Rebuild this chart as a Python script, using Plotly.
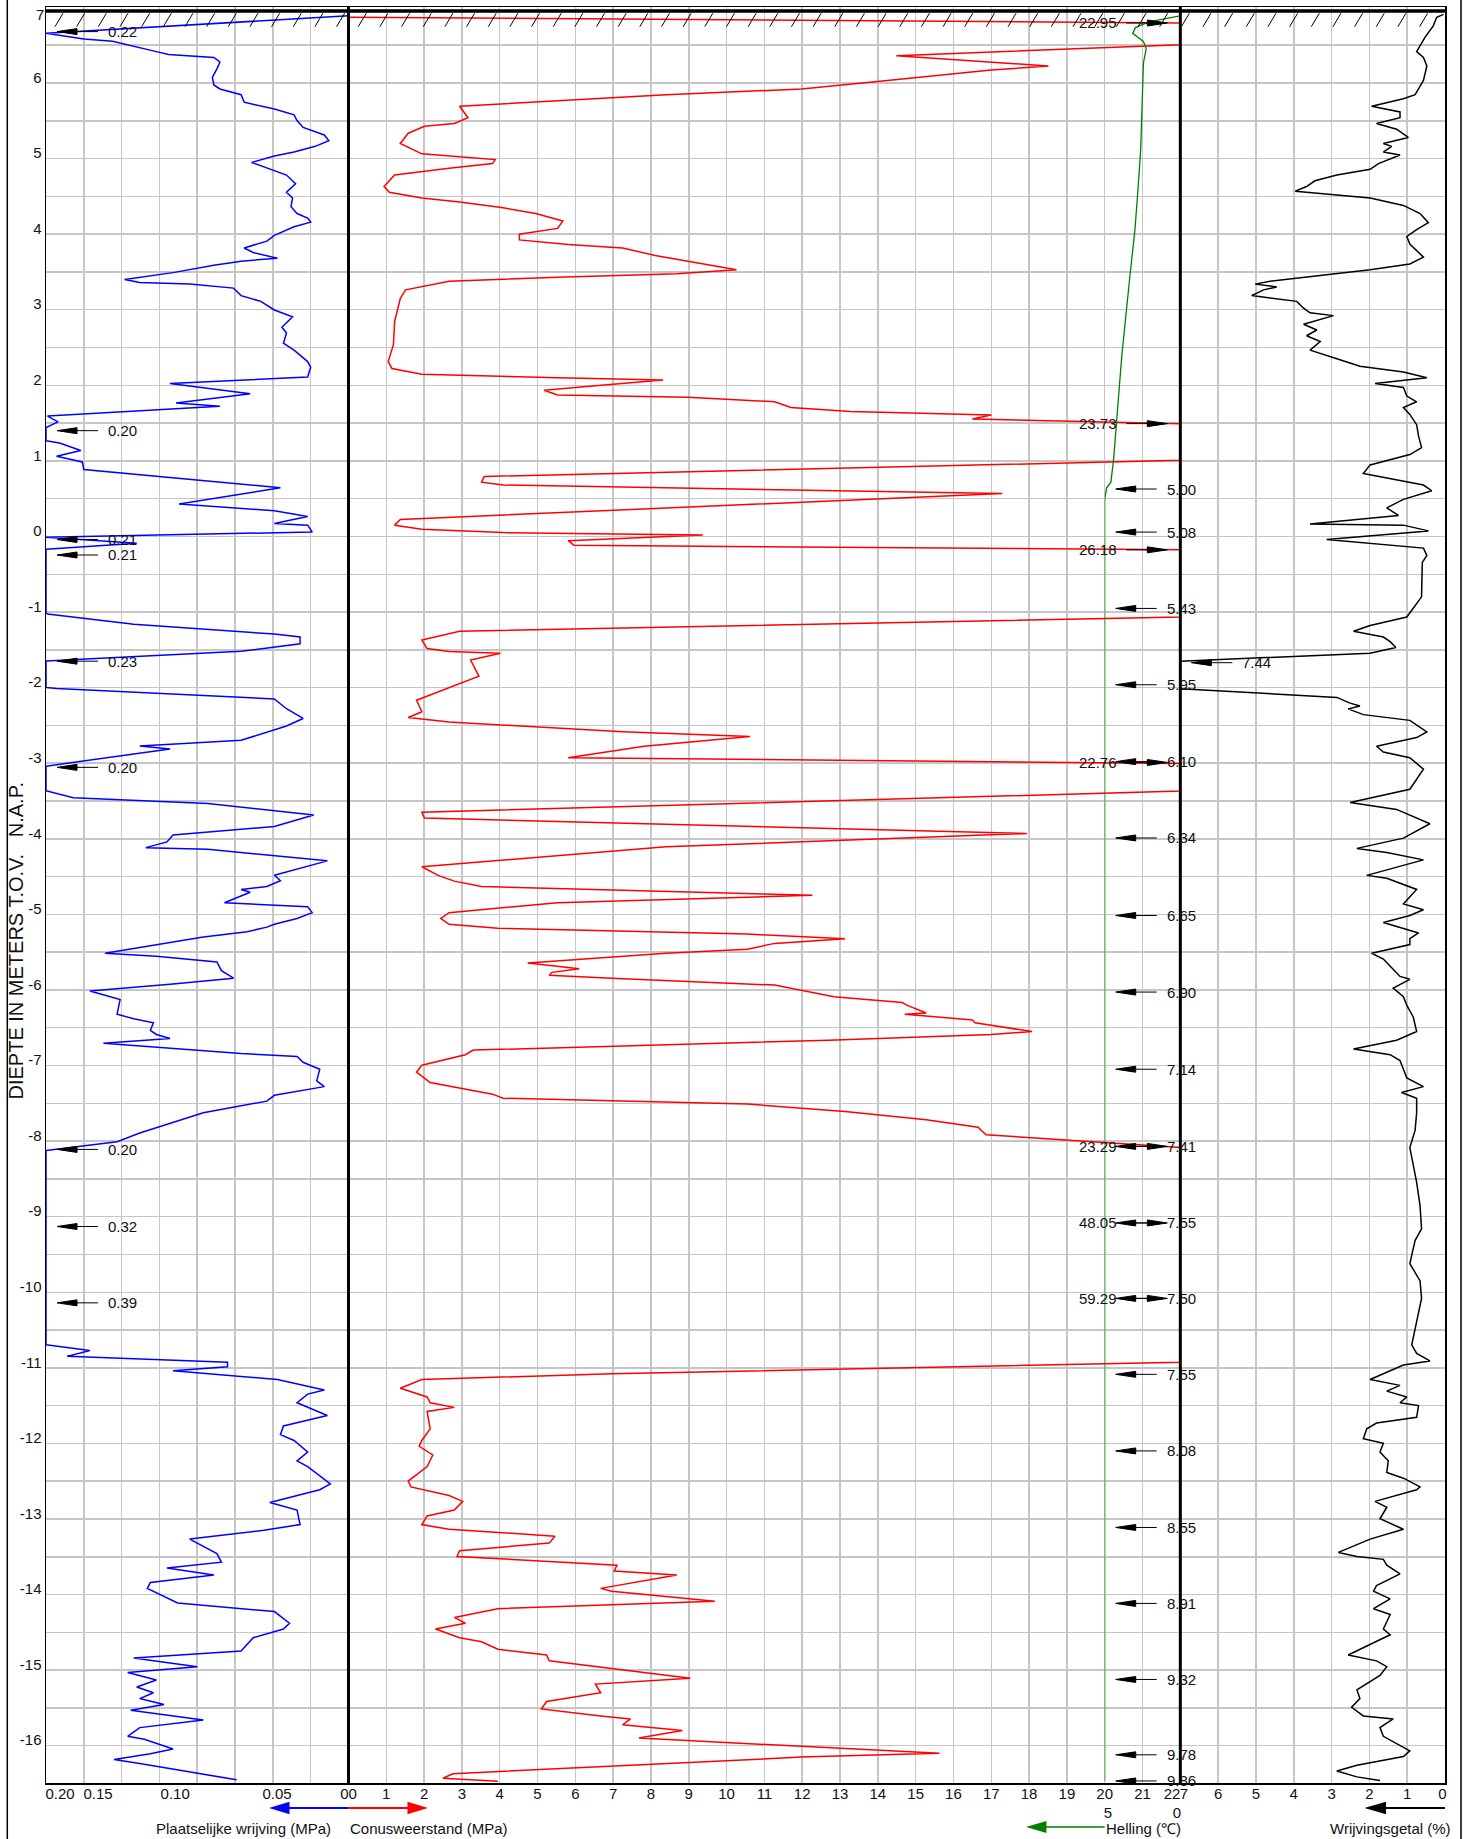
import plotly.graph_objects as go

# ---------------- data ----------------
friction_depth = [6.89, 6.657, 6.581, 6.551, 6.415, 6.377, 6.339, 6.278, 6.187, 6.073, 5.974, 5.921, 5.845, 5.747,
                  5.731, 5.655, 5.579, 5.503, 5.412, 5.313, 5.238, 5.162, 5.086, 5.033, 4.949, 4.858, 4.782, 4.668,
                  4.554, 4.478, 4.364, 4.273, 4.212, 4.159, 4.098, 3.984, 3.908, 3.817, 3.757, 3.681, 3.643, 3.590,
                  3.491, 3.400, 3.362, 3.339, 3.286, 3.187, 3.111, 2.997, 2.906, 2.769, 2.693, 2.557, 2.466, 2.314,
                  2.238, 2.109, 2.025, 1.889, 1.767, 1.722, 1.593, 1.517, 1.441, 1.267, 1.236, 1.137, 1.061, 0.986,
                  0.887, 0.644, 0.431, 0.340, 0.264, 0.173, 0.150, 0.059, -0.010, -0.090, -0.170, -1.011, -1.026,
                  -1.162, -1.291, -1.329, -1.420, -1.519, -1.648, -1.998, -2.013, -2.150, -2.279, -2.408, -2.507,
                  -2.697, -2.773, -2.811, -3.039, -3.365, -3.456, -3.532, -3.684, -3.836, -3.950, -4.041, -4.117,
                  -4.140, -4.292, -4.482, -4.555, -4.632, -4.670, -4.708, -4.847, -4.900, -4.977, -5.054, -5.131,
                  -5.169, -5.230, -5.299, -5.399, -5.514, -5.553, -5.629, -5.744, -5.783, -5.844, -5.921, -6.013,
                  -6.128, -6.320, -6.381, -6.435, -6.535, -6.589, -6.642, -6.704, -6.842, -6.880, -6.957, -7.049,
                  -7.203, -7.279, -7.394, -7.471, -7.625, -7.893, -8.008, -8.124, -10.695, -10.771, -10.848, -10.925,
                  -10.986, -11.040, -11.155, -11.293, -11.347, -11.462, -11.631, -11.769, -11.884, -11.961, -12.114,
                  -12.230, -12.306, -12.536, -12.613, -12.782, -12.882, -13.074, -13.150, -13.266, -13.457, -13.572,
                  -13.649, -13.741, -13.841, -13.918, -14.110, -14.225, -14.379, -14.455, -14.570, -14.747, -14.839,
                  -14.954, -15.031, -15.131, -15.223, -15.299, -15.376, -15.453, -15.530, -15.660, -15.760, -15.875,
                  -15.914, -15.990, -16.044, -16.105, -16.182, -16.236, -16.451]
friction_mpa = [0.000, 0.200, 0.175, 0.156, 0.127, 0.119, 0.089, 0.085, 0.087, 0.090, 0.089, 0.085, 0.071, 0.069,
                0.066, 0.049, 0.036, 0.034, 0.030, 0.016, 0.013, 0.022, 0.036, 0.049, 0.064, 0.052, 0.041, 0.035,
                0.041, 0.037, 0.038, 0.034, 0.027, 0.025, 0.036, 0.049, 0.054, 0.069, 0.063, 0.047, 0.071, 0.089,
                0.116, 0.148, 0.138, 0.105, 0.076, 0.071, 0.058, 0.049, 0.037, 0.044, 0.041, 0.043, 0.036, 0.027,
                0.025, 0.027, 0.118, 0.065, 0.114, 0.085, 0.199, 0.192, 0.200, 0.200, 0.191, 0.177, 0.193, 0.176,
                0.175, 0.045, 0.112, 0.049, 0.027, 0.049, 0.027, 0.024, 0.200, 0.140, 0.200, 0.200, 0.199,
                0.142, 0.049, 0.032, 0.032, 0.071, 0.200, 0.200, 0.193, 0.049, 0.041, 0.030, 0.041,
                0.071, 0.138, 0.118, 0.200, 0.200, 0.182, 0.093, 0.023, 0.049, 0.116, 0.120, 0.134,
                0.093, 0.014, 0.049, 0.045, 0.054, 0.071, 0.065, 0.082, 0.027, 0.024, 0.034, 0.049,
                0.054, 0.067, 0.096, 0.127, 0.161, 0.127, 0.087, 0.084, 0.081, 0.076, 0.116, 0.171,
                0.151, 0.153, 0.142, 0.129, 0.131, 0.127, 0.118, 0.162, 0.071, 0.034, 0.030, 0.019,
                0.021, 0.016, 0.049, 0.054, 0.096, 0.138, 0.153, 0.200, 0.200, 0.171, 0.186, 0.080,
                0.080, 0.116, 0.047, 0.016, 0.027, 0.034, 0.014, 0.043, 0.045, 0.036, 0.027,
                0.034, 0.027, 0.012, 0.019, 0.052, 0.034, 0.032, 0.056, 0.105, 0.087, 0.084,
                0.120, 0.089, 0.131, 0.133, 0.113, 0.049, 0.039, 0.043, 0.063, 0.071, 0.142,
                0.100, 0.146, 0.127, 0.140, 0.129, 0.138, 0.122, 0.144, 0.096, 0.138, 0.146,
                0.135, 0.124, 0.116, 0.131, 0.155, 0.138, 0.074]

cone_depth = [6.870, 6.794, 6.506, 6.361, 6.225, 6.172, 6.020, 5.921, 5.845, 5.693, 5.541, 5.465, 5.427, 5.336,
              5.200, 5.063, 4.987, 4.934, 4.873, 4.782, 4.630, 4.554, 4.478, 4.425, 4.349, 4.273, 4.174, 4.076,
              4.000, 3.924, 3.863, 3.818, 3.719, 3.567, 3.529, 3.476, 3.430, 3.377, 3.263, 3.149, 2.845, 2.542,
              2.314, 2.223, 2.147, 2.101, 2.071, 1.995, 1.934, 1.873, 1.843, 1.782, 1.706, 1.652, 1.607, 1.554,
              1.493, 1.007, 0.794, 0.719, 0.681, 0.567, 0.226, 0.150, 0.097, 0.051, 0.021, -0.055, -0.116, -0.177,
              -1.065, -1.255, -1.369, -1.483, -1.521, -1.544, -1.635, -1.848, -2.000, -2.167, -2.319, -2.395,
              -2.455, -2.585, -2.645, -2.775, -2.927, -3.003, -3.368, -3.649, -3.725, -3.930, -4.105, -4.370,
              -4.484, -4.560, -4.632, -4.747, -4.847, -4.977, -5.054, -5.131, -5.184, -5.261, -5.322, -5.384,
              -5.461, -5.514, -5.645, -5.721, -5.767, -5.806, -5.844, -5.936, -6.090, -6.167, -6.205, -6.305,
              -6.320, -6.397, -6.435, -6.512, -6.550, -6.589, -6.665, -6.796, -6.857, -6.995, -7.088, -7.226,
              -7.287, -7.379, -7.433, -7.510, -7.609, -7.717, -7.817, -7.916, -8.085, -10.925, -11.078, -11.155,
              -11.270, -11.385, -11.462, -11.523, -11.577, -11.807, -11.961, -12.038, -12.153, -12.306, -12.498,
              -12.575, -12.690, -12.767, -12.882, -12.959, -13.074, -13.135, -13.227, -13.319, -13.419, -13.496,
              -13.611, -13.688, -13.741, -13.918, -13.956, -14.087, -14.187, -14.302, -14.378, -14.455, -14.570,
              -14.624, -14.724, -14.800, -14.877, -14.977, -15.107, -15.184, -15.299, -15.414, -15.514, -15.606,
              -15.645, -15.722, -15.798, -15.898, -16.100, -16.150, -16.160, -16.370, -16.430, -16.470]
cone_mpa = [0.00, 22.0, 22.0, 14.49, 18.51, 17.00, 13.99, 11.98, 8.40, 2.94, 3.16, 2.80, 2.01, 1.58,
            1.37, 1.94, 3.88, 3.81, 2.66, 1.22, 0.94, 1.08, 1.94, 2.94, 4.09, 4.95, 5.67, 5.53,
            4.52, 4.52, 5.81, 7.25, 8.11, 9.83, 10.26, 8.68, 5.53, 2.66, 1.51, 1.37, 1.22, 1.19,
            1.05, 1.15, 1.94, 5.53, 8.32, 6.53, 5.17, 5.53, 8.97, 11.27, 11.70, 13.27, 17.00, 16.50,
            22.0, 22.0, 3.59, 3.52, 4.09, 17.29, 1.37, 1.22, 1.94, 4.09, 9.37, 5.81, 5.96, 22.0,
            22.0, 2.94, 1.94, 2.08, 2.66, 4.02, 3.23, 3.45, 2.66, 1.80, 1.94, 1.58,
            2.66, 7.25, 10.62, 7.82, 5.81, 22.0, 22.0, 1.94, 2.01, 17.94, 8.40, 1.94,
            2.37, 2.80, 3.52, 12.27, 5.53, 2.66, 2.44, 2.66, 3.95, 10.55, 13.13, 11.27,
            10.55, 8.40, 4.74, 6.10, 5.38, 5.31, 6.96, 11.27, 12.84, 14.64, 14.78, 15.28,
            14.71, 16.50, 16.57, 17.58, 18.08, 17.00, 12.70, 3.30, 3.09, 1.94, 1.80, 2.16,
            2.80, 3.81, 4.09, 10.55, 13.13, 15.28, 16.65, 16.86, 22.0, 22.0, 6.96, 1.94,
            1.37, 2.08, 2.16, 2.80, 2.08, 2.16, 1.94, 1.87, 2.23, 2.08, 1.58,
            1.65, 2.66, 3.02, 2.80, 2.08, 1.94, 2.66, 5.46, 5.31, 2.94, 2.87,
            7.10, 7.03, 8.68, 6.67, 6.96, 9.69, 3.95, 2.80, 3.09, 2.30, 2.94,
            3.52, 3.95, 5.24, 5.31, 6.96, 9.04, 6.53, 6.67, 5.24, 5.10, 6.67,
            7.46, 7.25, 8.83, 7.68, 15.63, 11.95, 11.60, 2.76, 2.50, 3.95]

incl_depth = [6.885, 6.809, 6.733, 6.657, 6.551, 6.453, 6.263, 5.731, 5.123, 4.592, 4.060, 3.453, 2.997, 2.390,
              1.934, 1.479, 1.023, 0.719, 0.643, 0.491, -16.470]
incl_deg = [0.11, 2.08, 2.97, 3.15, 2.44, 2.26, 2.44, 2.51, 2.62, 2.80, 3.00, 3.33, 3.58, 3.87,
            4.05, 4.23, 4.41, 4.59, 4.87, 5.00, 5.00]

ratio_depth = [6.908, 6.870, 6.756, 6.642, 6.604, 6.415, 6.339, 6.225, 6.035, 5.845, 5.792, 5.693, 5.617, 5.541,
               5.465, 5.389, 5.280, 5.200, 5.162, 5.086, 5.048, 4.934, 4.858, 4.782, 4.706, 4.630, 4.569, 4.478,
               4.380, 4.273, 4.152, 4.060, 3.969, 3.870, 3.696, 3.605, 3.529, 3.377, 3.339, 3.301, 3.263, 3.187,
               3.149, 3.111, 3.020, 2.960, 2.922, 2.808, 2.732, 2.656, 2.580, 2.466, 2.352, 2.253, 2.177, 2.101,
               2.025, 1.972, 1.858, 1.782, 1.706, 1.615, 1.479, 1.327, 1.175, 1.084, 0.947, 0.833, 0.681, 0.605,
               0.491, 0.378, 0.279, 0.165, 0.150, 0.074, -0.040, -0.154, -0.252, -0.343, -0.799, -1.065, -1.179,
               -1.255, -1.331, -1.392, -1.468, -1.544, -1.650, -2.015, -2.129, -2.205, -2.243, -2.281, -2.357,
               -2.433, -2.585, -2.661, -2.775, -2.851, -2.927, -3.079, -3.345, -3.519, -3.611, -3.801, -3.991,
               -4.127, -4.180, -4.279, -4.484, -4.522, -4.670, -4.862, -4.939, -5.015, -5.107, -5.246, -5.322,
               -5.399, -5.514, -5.591, -5.706, -5.821, -5.859, -5.975, -6.090, -6.205, -6.358, -6.550, -6.665,
               -6.780, -6.857, -6.934, -7.049, -7.164, -7.279, -7.356, -7.433, -7.625, -7.855, -8.085, -8.315,
               -8.546, -8.853, -9.160, -9.313, -9.620, -9.850, -10.081, -10.388, -10.695, -10.810, -10.909,
               -10.963, -11.155, -11.232, -11.308, -11.385, -11.462, -11.500, -11.654, -11.731, -11.807, -11.938,
               -11.999, -12.114, -12.230, -12.383, -12.460, -12.575, -12.613, -12.767, -12.844, -12.997, -13.135,
               -13.266, -13.442, -13.496, -13.534, -13.611, -13.726, -13.880, -13.956, -14.056, -14.187, -14.263,
               -14.455, -14.532, -14.800, -14.877, -14.954, -15.069, -15.261, -15.376, -15.491, -15.606, -15.645,
               -15.760, -15.875, -16.067, -16.143, -16.259, -16.335, -16.412, -16.460]
ratio_pct = [0.04, 0.22, 0.31, 0.48, 0.53, 0.75, 0.57, 0.48, 0.57, 0.79, 1.10, 1.94, 1.19, 1.19,
             1.81, 1.28, 0.97, 1.63, 1.41, 1.63, 1.19, 1.76, 1.98, 2.86, 3.44, 3.66, 3.96, 1.98,
             1.10, 0.66, 0.44, 0.75, 1.01, 0.93, 0.57, 0.93, 1.98, 4.63, 5.02, 4.45, 4.80, 5.11,
             4.54, 3.92, 3.74, 3.57, 2.95, 3.74, 3.39, 3.66, 3.30, 3.57, 2.86, 2.25, 1.10, 0.48,
             1.85, 1.10, 1.01, 0.75, 1.10, 0.93, 0.75, 0.70, 0.62, 0.93, 1.98, 2.16, 0.57, 0.35,
             1.10, 1.54, 1.23, 3.57, 1.10, 0.44, 3.13, 0.57, 0.48, 0.60, 0.62, 1.01, 1.98,
             2.42, 1.63, 1.45, 1.30, 1.98, 7.00, 7.00, 2.86, 2.51, 2.25, 2.56, 2.16,
             0.93, 0.48, 0.75, 1.81, 1.63, 0.93, 0.57, 0.93, 2.51, 1.28, 0.40, 1.10,
             2.33, 1.54, 0.57, 2.07, 1.54, 0.75, 1.10, 0.57, 0.93, 1.63, 0.70, 0.93,
             0.93, 1.94, 1.63, 1.41, 1.19, 0.93, 1.37, 1.10, 1.01, 0.84, 0.75, 1.28,
             2.42, 1.45, 1.19, 1.10, 1.01, 0.57, 1.15, 0.75, 0.75, 0.79, 0.93, 0.84,
             0.75, 0.66, 0.62, 0.79, 0.93, 0.66, 0.62, 0.75, 0.88, 0.75, 0.40,
             1.10, 1.98, 1.19, 1.54, 1.01, 1.19, 0.70, 0.75, 1.81, 2.07, 2.16,
             1.63, 1.72, 1.50, 1.54, 1.10, 0.66, 0.75, 1.85, 1.54, 1.72, 1.10,
             1.98, 2.82, 2.33, 1.63, 1.54, 1.19, 1.81, 1.89, 1.45, 1.89, 1.45,
             1.63, 1.45, 2.56, 1.81, 1.54, 1.72, 2.33, 2.25, 2.47, 2.16, 1.37,
             1.72, 1.63, 0.93, 1.10, 2.33, 2.86, 2.33, 1.72]

# values beyond the scales, written next to the arrows
friction_over_depth = [6.68, 1.40, -0.04, -0.245, -1.65, -3.055, -8.11, -9.13, -10.14]
friction_over_label = ["0.22", "0.20", "0.21", "0.21", "0.23", "0.20", "0.20", "0.32", "0.39"]
cone_over_depth = [6.794, 1.493, -0.177, -2.99, -8.07, -9.083, -10.081]
cone_over_label = ["22.95", "23.73", "26.18", "22.76", "23.29", "48.05", "59.29"]
incl_over_depth = [0.628, 0.058, -0.952, -1.962, -2.979, -3.989, -5.015, -6.028, -7.049, -8.070, -9.083,
                   -10.081, -11.086, -12.099, -13.112, -14.117, -15.123, -16.12, -16.466]
incl_over_label = ["5.00", "5.08", "5.43", "5.95", "6.10", "6.34", "6.65", "6.90", "7.14", "7.41", "7.55",
                   "7.50", "7.55", "8.08", "8.55", "8.91", "9.32", "9.78", "9.86"]
ratio_over_depth = [-1.67]
ratio_over_label = ["7.44"]

# tick labels
depth_ticks = list(range(-16, 7))
friction_tickvals = [0.1907, 0.1656, 0.1146, 0.0472, 0.0027]
friction_ticktext = ["0.20", "0.15", "0.10", "0.05", "0"]
cone_tickvals = [0.11] + list(range(1, 22)) + [21.78]
cone_ticktext = ["0"] + [str(v) for v in range(1, 22)] + ["22"]
ratio_tickvals = [6.906, 6, 5, 4, 3, 2, 1, 0.07]
ratio_ticktext = ["7", "6", "5", "4", "3", "2", "1", "0"]
incl_tickvals = [4.79, 0.22]
incl_ticktext = ["5", "0"]

# ---------------- layout geometry ----------------
W, H = 1467, 1839
PL, PR, PT, PB = 46, 1445, 7, 1783
D_TOP, D_BOT = 7.0056, -16.493
FONT = "Liberation Sans, Arial, sans-serif"
GRID = "#c6c6c6"
TXT = "#111111"
FS = 15
U = 37.0
DOM_F = [0, 8 / U]
DOM_C = [8 / U, 30 / U]
DOM_H = [28 / U, 30 / U]
DOM_R = [30 / U, 1]


def fx(px):
    return (px - PL) / (PR - PL)


def fy(py):
    return (PB - py) / (PB - PT)


fig = go.Figure()
fig.add_trace(go.Scatter(x=[], y=[], xaxis="x", yaxis="y", showlegend=False))
fig.add_trace(go.Scatter(x=[], y=[], xaxis="x", yaxis="y2", showlegend=False))
fig.add_trace(go.Scatter(x=friction_mpa, y=friction_depth, xaxis="x2", yaxis="y", mode="lines",
                         line=dict(color="#0000ff", width=1.5), showlegend=False, hoverinfo="skip"))
fig.add_trace(go.Scatter(x=cone_mpa, y=cone_depth, xaxis="x3", yaxis="y", mode="lines",
                         line=dict(color="#ff0000", width=1.5), showlegend=False, hoverinfo="skip"))
fig.add_trace(go.Scatter(x=ratio_pct, y=ratio_depth, xaxis="x4", yaxis="y", mode="lines",
                         line=dict(color="#000000", width=1.5), showlegend=False, hoverinfo="skip"))
fig.add_trace(go.Scatter(x=incl_deg, y=incl_depth, xaxis="x5", yaxis="y", mode="lines",
                         line=dict(color="#008000", width=1.3), showlegend=False, hoverinfo="skip"))

tickfont = dict(family=FONT, size=FS, color=TXT)
data_axis = dict(anchor="y", showgrid=False, zeroline=False, showline=False, ticks="", tickangle=0,
                 tickfont=tickfont, automargin=False, fixedrange=True)

fig.update_layout(
    width=W, height=H,
    margin=dict(l=PL, r=W - PR, t=PT, b=H - PB),
    paper_bgcolor="white", plot_bgcolor="rgba(0,0,0,0)",
    showlegend=False,
    xaxis=dict(domain=[0, 1], range=[-8, 29], tickvals=list(range(-7, 29)), showticklabels=False,
               showgrid=True, gridcolor=GRID, gridwidth=1.5, zeroline=False, showline=True, mirror=True,
               linecolor="black", linewidth=1.5, ticks="", anchor="y", automargin=False, fixedrange=True),
    yaxis=dict(domain=[0, 1], range=[D_BOT, D_TOP], tickvals=depth_ticks,
               ticktext=[str(v) for v in depth_ticks], ticklabelposition="outside top", ticklabelshift=5,
               showgrid=False, zeroline=False, showline=True, mirror=True, linecolor="black", linewidth=1.5,
               ticks="", anchor="x", tickfont=tickfont, automargin=False, fixedrange=True),
    yaxis2=dict(overlaying="y", range=[D_BOT, D_TOP], tickvals=[-16 + 0.5 * i for i in range(46)],
                showticklabels=False, showgrid=True, gridcolor=GRID, gridwidth=1.5, zeroline=False,
                ticks="", anchor="x", automargin=False, fixedrange=True),
    xaxis2=dict(domain=DOM_F, range=[0.2, 0], tickvals=friction_tickvals, ticktext=friction_ticktext, **data_axis),
    xaxis3=dict(domain=DOM_C, range=[0, 22], tickvals=cone_tickvals, ticktext=cone_ticktext, **data_axis),
    xaxis4=dict(domain=DOM_R, range=[7, 0], tickvals=ratio_tickvals, ticktext=ratio_ticktext, **data_axis),
    xaxis5=dict(domain=DOM_H, range=[5, 0], tickvals=incl_tickvals, ticktext=incl_ticktext,
                ticklabelstandoff=19, **data_axis),
)

shapes = []
annotations = []
afont = dict(family=FONT, size=FS, color=TXT)

# ground level line and hatching
shapes.append(dict(type="line", xref="paper", yref="paper", x0=0, x1=1, y0=fy(11), y1=fy(11),
                   line=dict(color="black", width=3.5)))
hatch = []
hx = 55.0
while hx + 8 <= PR:
    hatch.append(f"M{fx(hx):.5f},{fy(26.7):.5f}L{fx(hx + 8):.5f},{fy(13.3):.5f}")
    hx += 21.66
shapes.append(dict(type="path", xref="paper", yref="paper", path="".join(hatch),
                   line=dict(color="black", width=1)))

# thick separators at cone 0 and cone 22
for xp in (DOM_C[0], DOM_C[1]):
    shapes.append(dict(type="line", xref="paper", yref="paper", x0=xp, x1=xp, y0=0, y1=1,
                       line=dict(color="black", width=3)))

# outer frame
for px in (7.3, 1461):
    shapes.append(dict(type="line", xref="paper", yref="paper", x0=fx(px), x1=fx(px), y0=fy(H), y1=fy(0),
                       line=dict(color="black", width=1.5)))


def arrow(xref, xanchor, depth, label, pointing):
    if pointing == "left":
        path = "M11,0L31,3L31,-3ZM31,0L52,0"
        annotations.append(dict(xref=xref, yref="y", x=xanchor, y=depth, xshift=60, xanchor="left",
                                yanchor="middle", text=label, showarrow=False, font=afont))
    else:
        path = "M-13,0L-33,3L-33,-3ZM-33,0L-54,0"
        annotations.append(dict(xref=xref, yref="y", x=xanchor, y=depth, xshift=-61, xanchor="right",
                                yanchor="middle", text=label, showarrow=False, font=afont))
    shapes.append(dict(type="path", xref=xref, yref="y", xsizemode="pixel", ysizemode="pixel",
                       xanchor=xanchor, yanchor=depth, path=path, fillcolor="black",
                       line=dict(color="black", width=1)))


for d, t in zip(friction_over_depth, friction_over_label):
    arrow("x2", 0.2, d, t, "left")
for d, t in zip(cone_over_depth, cone_over_label):
    arrow("x3", 22, d, t, "right")
for d, t in zip(incl_over_depth, incl_over_label):
    arrow("x5", 5, d, t, "left")
for d, t in zip(ratio_over_depth, ratio_over_label):
    arrow("x4", 7, d, t, "left")


# legend arrows under the axes
def legend_arrow(px, py, path, color, width):
    shapes.append(dict(type="path", xref="paper", yref="paper", xsizemode="pixel", ysizemode="pixel",
                       xanchor=fx(px), yanchor=fy(py), path=path, fillcolor=color,
                       line=dict(color=color, width=width)))


x_c0 = PL + DOM_C[0] * (PR - PL)
x_c20 = PL + (DOM_C[0] + 20 / U) * (PR - PL)
legend_arrow(x_c0, 1808, "M0,0L-60,0M-76,0L-60,5L-60,-5Z", "#0000ff", 2)
legend_arrow(x_c0, 1808, "M0,0L60,0M76,0L60,5L60,-5Z", "#ff0000", 2)
legend_arrow(x_c20, 1827, "M0,0L-59,0M-76,0L-59,5L-59,-5Z", "#008000", 1.5)
legend_arrow(PR, 1808, "M0,0L-60,0M-77,0L-60,5L-60,-5Z", "#000000", 2)

# axis titles
annotations += [
    dict(xref="paper", yref="paper", x=fx(333), y=fy(1829), xanchor="right", yanchor="middle",
         text="Plaatselijke wrijving (MPa)", showarrow=False, font=afont),
    dict(xref="paper", yref="paper", x=fx(348), y=fy(1829), xanchor="left", yanchor="middle",
         text="Conusweerstand (MPa)", showarrow=False, font=afont),
    dict(xref="paper", yref="paper", x=fx(1104), y=fy(1829), xanchor="left", yanchor="middle",
         text="Helling (\u2103)", showarrow=False, font=afont),
    dict(xref="paper", yref="paper", x=fx(1453), y=fy(1829), xanchor="right", yanchor="middle",
         text="Wrijvingsgetal (%)", showarrow=False, font=afont),
    dict(xref="paper", yref="paper", x=fx(15.5), y=fy(941), xanchor="center", yanchor="middle",
         textangle=-90, text="DIEPTE IN METERS T.O.V.\u00a0\u00a0\u00a0N.A.P.", showarrow=False,
         font=dict(family=FONT, size=20, color=TXT)),
    dict(xref="paper", yref="paper", x=fx(46), y=fy(15), xanchor="right", yanchor="middle",
         text="7", showarrow=False, font=afont),
]

fig.update_layout(shapes=shapes, annotations=annotations)

fig.write_html("out.html", config={"displayModeBar": False, "staticPlot": True},
               post_script="document.body.style.margin='0';document.body.style.overflow='hidden';")
